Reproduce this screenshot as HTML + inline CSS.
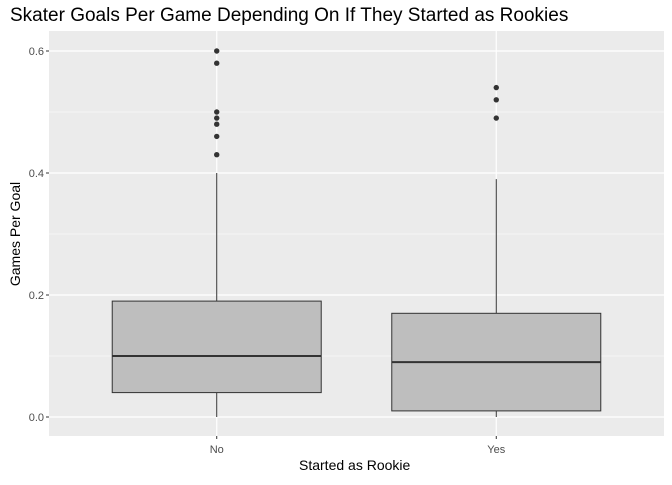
<!DOCTYPE html>
<html><head><meta charset="utf-8"><style>
body{margin:0;background:#fff;font-family:"Liberation Sans",sans-serif}
</style></head><body>
<svg id="c" width="672" height="480" xmlns="http://www.w3.org/2000/svg"></svg>
<script>
const categories=["No","Yes"];
const q1Values=[0.04,0.01];
const medianValues=[0.10,0.09];
const q3Values=[0.19,0.17];
const whiskerLow=[0.0,0.0];
const whiskerHigh=[0.40,0.39];
const outliersNo=[0.43,0.46,0.48,0.49,0.50,0.58,0.60];
const outliersYes=[0.49,0.52,0.54];
const yTicks=[0,0.2,0.4,0.6];
const yTickLabels=["0.0","0.2","0.4","0.6"];
const yMinor=[0.1,0.3,0.5];

const NS="http://www.w3.org/2000/svg";
const svg=document.getElementById('c');
const L=49,R=664,T=31,B=436;
const y=v=>417-610*v;
const x=i=>L+(R-L)*(i+0.6)/(categories.length+0.2);
const bw=209;
function mk(t,a,p){const e=document.createElementNS(NS,t);for(const k in a)e.setAttribute(k,a[k]);(p||svg).appendChild(e);return e;}

const panel=mk('rect',{x:L,y:T,width:R-L,height:B-T,fill:'#ebebeb'});


yMinor.forEach(v=>{const g=mk('line',{x1:L,x2:R,y1:y(v),y2:y(v),stroke:'#fff','stroke-width':0.6});

});
yTicks.forEach((v,i)=>{const g=mk('line',{x1:L,x2:R,y1:y(v),y2:y(v),stroke:'#fff','stroke-width':1.2});


mk('line',{x1:L-3,x2:L,y1:y(v),y2:y(v),stroke:'#333'});
const t=mk('text',{x:L-5,y:y(v)+4,'text-anchor':'end','font-size':11,fill:'#4d4d4d'});t.textContent=yTickLabels[i];

});
categories.forEach((c,i)=>{const cx=x(i);
const g=mk('line',{x1:cx,x2:cx,y1:T,y2:B,stroke:'#fff','stroke-width':1.2});


mk('line',{x1:cx,x2:cx,y1:B,y2:B+3,stroke:'#333'});
const t=mk('text',{x:cx,y:453,'text-anchor':'middle','font-size':11,fill:'#4d4d4d'});t.textContent=c;


const grp=mk('g',{});


mk('line',{x1:cx,x2:cx,y1:y(whiskerHigh[i]),y2:y(q3Values[i]),stroke:'#333'},grp);
mk('line',{x1:cx,x2:cx,y1:y(q1Values[i]),y2:y(whiskerLow[i]),stroke:'#333'},grp);
mk('rect',{x:cx-bw/2,y:y(q3Values[i]),width:bw,height:y(q1Values[i])-y(q3Values[i]),fill:'#bebebe',stroke:'#333'},grp);
mk('line',{x1:cx-bw/2,x2:cx+bw/2,y1:y(medianValues[i]),y2:y(medianValues[i]),stroke:'#333','stroke-width':2},grp);
(i===0?outliersNo:outliersYes).forEach(v=>{const p=mk('circle',{cx:cx,cy:y(v),r:2.7,fill:'#333'},grp);

});
});
</script>
<div style="position:absolute;left:10px;top:5px;font-size:19px;color:#000;white-space:nowrap">Skater Goals Per Game Depending On If They Started as Rookies</div>
<div style="position:absolute;left:299px;top:457px;font-size:14px;white-space:nowrap">Started as Rookie</div>
<div style="position:absolute;left:15px;top:234px;transform:translate(-50%,-50%) rotate(-90deg);font-size:14px;white-space:nowrap">Games Per Goal</div>
</body></html>
